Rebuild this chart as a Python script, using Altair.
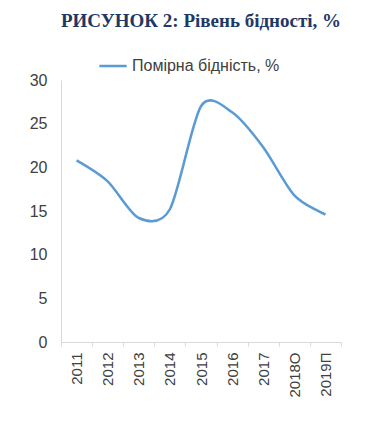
import altair as alt
import pandas as pd

years = ["2011", "2012", "2013", "2014", "2015", "2016", "2017", "2018О", "2019П"]
values = [20.8, 18.4, 14.2, 15.2, 27.0, 26.3, 22.3, 16.8, 14.6]
series = "Помірна бідність, %"

df = pd.DataFrame({"year": years, "value": values, "series": [series] * len(years)})

chart = alt.Chart(df).mark_line(
    interpolate="cardinal", tension=0.15, strokeWidth=2.5
).encode(
    x=alt.X("year:N", sort=years, title=None,
            axis=alt.Axis(labelAngle=-90, tickBand="extent", tickSize=4,
                          domainColor="#d9d9d9", tickColor="#d9d9d9",
                          labelColor="#404040", labelFont="Liberation Sans",
                          labelFontSize=15, labelPadding=6, grid=False)),
    y=alt.Y("value:Q", scale=alt.Scale(domain=[0, 30]), title=None,
            axis=alt.Axis(values=[0, 5, 10, 15, 20, 25, 30], ticks=False,
                          domainColor="#d9d9d9", labelColor="#404040",
                          labelFont="Liberation Sans", labelFontSize=16,
                          labelPadding=14, grid=False, minExtent=53, maxExtent=53)),
    color=alt.Color("series:N", scale=alt.Scale(range=["#5b9bd5"]),
                    legend=alt.Legend(title=None, orient="none", legendX=37, legendY=-29,
                                      symbolType="stroke", symbolStrokeWidth=2.5,
                                      symbolSize=750, labelOffset=4,
                                      labelFont="Liberation Sans",
                                      labelFontSize=16, labelColor="#404040")),
).properties(
    width=280, height=262,
    padding={"left": 0, "top": 4, "right": 5, "bottom": 5},
    title=alt.TitleParams("РИСУНОК 2: Рівень бідності, %", font="Liberation Serif",
                          fontSize=19, fontWeight="bold", color="#1f3864",
                          anchor="middle", offset=20),
).configure_view(stroke=None)

chart.save("out.html", embed_options={"renderer": "svg", "actions": False})
